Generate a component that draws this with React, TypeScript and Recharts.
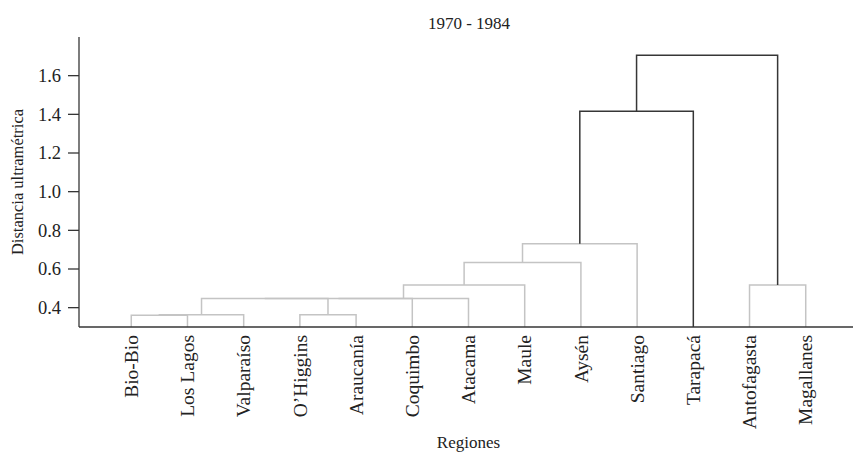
import { ComposedChart, Line, XAxis, YAxis } from "recharts";

const leaves = [
  "Bio-Bio",
  "Los Lagos",
  "Valparaíso",
  "O’Higgins",
  "Araucanía",
  "Coquimbo",
  "Atacama",
  "Maule",
  "Aysén",
  "Santiago",
  "Tarapacá",
  "Antofagasta",
  "Magallanes",
];

// hclust-style merges: negative = leaf (1-based), positive = earlier merge (1-based)
const mergeLeft = [-1, 1, -4, 2, 4, 5, 6, -12, 7, 9, 10, 11];
const mergeRight = [-2, -3, -5, 3, -6, -7, -8, -13, -9, -10, -11, 8];
const mergeHeight = [0.361, 0.364, 0.364, 0.447, 0.447, 0.447, 0.517, 0.517, 0.633, 0.731, 1.416, 1.705];

const yTicks = [0.4, 0.6, 0.8, 1.0, 1.2, 1.4, 1.6];
const baseline = 0.3;
const cutHeight = 1.0;

const FONT = "Liberation Serif";
const DARK = "#363636";
const GRAY = "#c4c4c4";

type Pt = { x: number; y: number };

function buildLinks() {
  const nodeX: number[] = [];
  const nodeH: number[] = [];
  const links: { pts: Pt[]; dark: boolean }[] = [];
  const pos = (ref: number) =>
    ref < 0 ? { x: -ref, h: baseline } : { x: nodeX[ref - 1], h: nodeH[ref - 1] };
  mergeHeight.forEach((h, i) => {
    const l = pos(mergeLeft[i]);
    const r = pos(mergeRight[i]);
    nodeX[i] = (l.x + r.x) / 2;
    nodeH[i] = h;
    links.push({
      pts: [
        { x: l.x, y: l.h },
        { x: l.x, y: h },
        { x: r.x, y: h },
        { x: r.x, y: r.h },
      ],
      dark: h > cutHeight,
    });
  });
  return links;
}

const links = buildLinks();
const ordered = [...links.filter((l) => !l.dark), ...links.filter((l) => l.dark)];

function LeafTick(props: any) {
  const { x, y, payload } = props;
  return (
    <text
      x={x}
      y={y}
      transform={`rotate(-90, ${x}, ${y})`}
      textAnchor="end"
      dy="0.34em"
      style={{ fontSize: 19.5, fontFamily: FONT, fill: "#222" }}
    >
      {leaves[payload.value - 1]}
    </text>
  );
}

function ValueTick(props: any) {
  const { x, y, payload } = props;
  return (
    <text
      x={x}
      y={y}
      textAnchor="end"
      dy="0.34em"
      style={{ fontSize: 18.5, fontFamily: FONT, fill: "#222" }}
    >
      {Number(payload.value).toFixed(1)}
    </text>
  );
}

export default function App() {
  return (
    <div
      style={{
        position: "absolute",
        left: 0,
        top: 0,
        width: 853,
        height: 454,
        overflow: "hidden",
        background: "#fff",
        fontFamily: FONT,
        color: "#222",
      }}
    >
      <div
        style={{
          position: "absolute",
          left: 369,
          top: 15,
          width: 200,
          textAlign: "center",
          fontSize: 17,
          lineHeight: "17px",
        }}
      >
        1970 - 1984
      </div>
      <div
        style={{
          position: "absolute",
          left: 368.5,
          top: 434,
          width: 200,
          textAlign: "center",
          fontSize: 17,
          lineHeight: "17px",
        }}
      >
        Regiones
      </div>
      <div
        style={{
          position: "absolute",
          left: 17.5 - 100,
          top: 182 - 8,
          width: 200,
          height: 16,
          textAlign: "center",
          fontSize: 16.5,
          lineHeight: "16px",
          transform: "rotate(-90deg)",
          whiteSpace: "nowrap",
        }}
      >
        Distancia ultramétrica
      </div>
      <ComposedChart width={860} height={454} margin={{ top: 37, right: 2, bottom: 0, left: 0 }}>
        <XAxis
          type="number"
          dataKey="x"
          domain={[0.07, 13.93]}
          ticks={leaves.map((_, i) => i + 1)}
          allowDataOverflow
          height={127}
          tickLine={false}
          tickSize={6}
          tickMargin={2}
          axisLine={{ stroke: DARK, strokeWidth: 1.3 }}
          tick={<LeafTick />}
          interval={0}
        />
        <YAxis
          type="number"
          domain={[baseline, 1.8]}
          ticks={yTicks}
          allowDataOverflow
          width={79}
          tickSize={11}
          tickMargin={7}
          axisLine={{ stroke: DARK, strokeWidth: 1.3 }}
          tickLine={{ stroke: DARK, strokeWidth: 1.3 }}
          tick={<ValueTick />}
          interval={0}
        />
        {ordered.map((link, i) => (
          <Line
            key={i}
            data={link.pts}
            dataKey="y"
            type="linear"
            stroke={link.dark ? DARK : GRAY}
            strokeWidth={1.5}
            dot={false}
            activeDot={false}
            legendType="none"
            isAnimationActive={false}
          />
        ))}
      </ComposedChart>
    </div>
  );
}
